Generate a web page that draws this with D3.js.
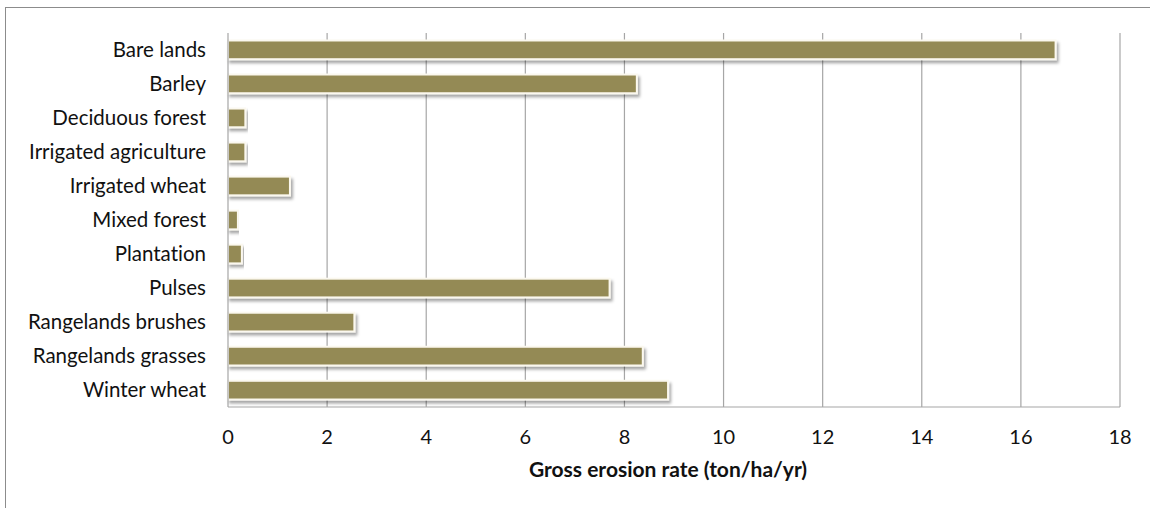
<!DOCTYPE html>
<html>
<head>
<meta charset="utf-8">
<script src="https://cdn.jsdelivr.net/npm/d3@7"></script>
<style>
  body { margin: 0; background: #fff; }
  text { font-family: Lato, "Open Sans", sans-serif; fill: #111; font-variant-ligatures: none; }
</style>
</head>
<body>
<svg id="chart" width="1150" height="508"></svg>
<script>
// land use categories, top to bottom
const categories = [
    "Bare lands", "Barley", "Deciduous forest", "Irrigated agriculture",
    "Irrigated wheat", "Mixed forest", "Plantation", "Pulses",
    "Rangelands brushes", "Rangelands grasses", "Winter wheat"
];
// gross erosion rate (ton/ha/yr)
const erosion = [16.7, 8.25, 0.35, 0.35, 1.25, 0.2, 0.28, 7.7, 2.55, 8.37, 8.88];
const xTicks = [0, 2, 4, 6, 8, 10, 12, 14, 16, 18];

const svg = d3.select("#chart");
const margin = {top: 33, right: 30, bottom: 101, left: 228};
const width = 1150 - margin.left - margin.right;
const height = 508 - margin.top - margin.bottom;

// outer frame (runs off the right and bottom of the picture)
svg.append("rect")
    .attr("x", 5.5).attr("y", 7.5)
    .attr("width", 1160).attr("height", 520)
    .attr("fill", "none")
    .attr("stroke", "#8c8c8c")
    .attr("stroke-width", 1);

const defs = svg.append("defs");
const shadow = defs.append("filter").attr("id", "shadow")
    .attr("x", "-5%").attr("y", "-30%").attr("width", "115%").attr("height", "180%");
shadow.append("feDropShadow")
    .attr("dx", 2).attr("dy", 3).attr("stdDeviation", 1.8)
    .attr("flood-color", "#000").attr("flood-opacity", 0.35);

const g = svg.append("g").attr("transform", `translate(${margin.left},${margin.top})`);

const x = d3.scaleLinear().domain([0, 18]).range([0, width]);
const y = d3.scaleBand().domain(categories).range([0, height]).paddingInner(0.45).paddingOuter(0.22);

// vertical gridlines
g.append("g")
    .selectAll("line")
    .data(xTicks.filter(d => d > 0))
    .join("line")
    .attr("x1", d => x(d)).attr("x2", d => x(d))
    .attr("y1", 0).attr("y2", height)
    .attr("stroke", "#a6a6a6")
    .attr("stroke-width", 1.2);

// bars
g.append("g")
    .selectAll("rect")
    .data(categories)
    .join("rect")
    .attr("x", 0)
    .attr("y", d => y(d))
    .attr("width", (d, i) => x(erosion[i]))
    .attr("height", y.bandwidth())
    .attr("fill", "#948a54")
    .attr("stroke", "#fbf8ef")
    .attr("stroke-width", 2)
    .attr("filter", "url(#shadow)");

// axis lines
g.append("line")
    .attr("x1", 0).attr("x2", 0).attr("y1", 0).attr("y2", height)
    .attr("stroke", "#a6a6a6").attr("stroke-width", 1.2);
g.append("line")
    .attr("x1", 0).attr("x2", width).attr("y1", height).attr("y2", height)
    .attr("stroke", "#a6a6a6").attr("stroke-width", 1.2);

// category labels
g.append("g")
    .selectAll("text")
    .data(categories)
    .join("text")
    .attr("x", -22)
    .attr("y", d => y(d) + y.bandwidth() / 2)
    .attr("dy", "0.35em")
    .attr("text-anchor", "end")
    .style("font-size", "20.5px")
    .text(d => d);

// x tick labels
g.append("g")
    .selectAll("text")
    .data(xTicks)
    .join("text")
    .attr("x", d => x(d))
    .attr("y", height + 30)
    .attr("dy", "0.35em")
    .attr("text-anchor", "middle")
    .style("font-size", "20px")
    .text(d => d);

// axis title
g.append("text")
    .attr("x", 668 - margin.left)
    .attr("y", height + 63)
    .attr("dy", "0.35em")
    .attr("text-anchor", "middle")
    .style("font-size", "21px")
    .style("font-weight", "bold")
    .text("Gross erosion rate (ton/ha/yr)");
</script>
</body>
</html>
